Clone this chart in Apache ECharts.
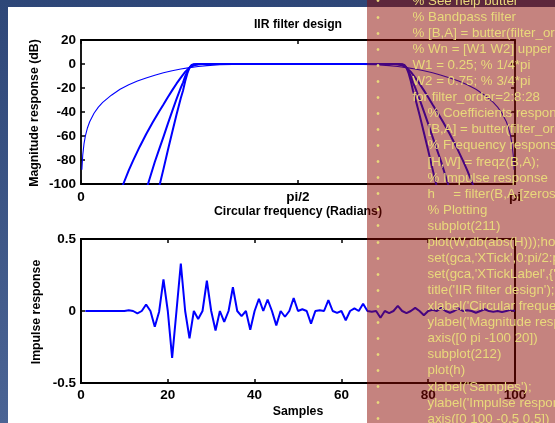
<!DOCTYPE html>
<html>
<head>
<meta charset="utf-8">
<script src="https://cdn.jsdelivr.net/npm/echarts@6/dist/echarts.min.js"></script>
<style>
html,body{margin:0;padding:0;}
#chart{width:555px;height:423px;background:linear-gradient(180deg,#2e4778 0%,#4b6494 100%);}
</style>
</head>
<body>
<div id="chart"></div>
<script>
// Magnitude responses [normalised frequency (x pi rad), dB] of the Butterworth band-pass designs
const order2 = [
  [0.002,-88.1],[0.004,-76.0],[0.007,-66.3],[0.01,-60.1],[0.015,-53.1],[0.02,-48.1],
  [0.03,-41.0],[0.04,-35.9],[0.05,-32.0],[0.07,-26.0],[0.09,-21.0],[0.11,-17.3],
  [0.13,-14.2],[0.15,-11.6],[0.17,-9.3],[0.19,-7.3],[0.21,-5.6],[0.23,-4.1],
  [0.25,-3.0],[0.27,-2.05],[0.29,-1.35],[0.32,-0.65],[0.35,-0.28],[0.40,-0.05],
  [0.45,0],[0.50,0],[0.55,0],[0.60,-0.05],[0.65,-0.28],[0.68,-0.65],[0.71,-1.35],
  [0.73,-2.05],[0.75,-3.0],[0.77,-4.1],[0.79,-5.6],[0.81,-7.3],[0.83,-9.3],
  [0.85,-11.6],[0.87,-14.2],[0.89,-17.3],[0.91,-21.0],[0.93,-26.0],[0.95,-32.0],
  [0.96,-35.9],[0.97,-41.0],[0.98,-48.1],[0.985,-53.1],[0.99,-60.1],[0.993,-66.3],
  [0.996,-76.0],[0.998,-88.1]
];
const order10 = [
  [0.08,-117.7],[0.0975,-100],[0.11,-88.7],[0.12,-80.5],[0.135,-69.1],[0.15,-58.6],
  [0.165,-48.8],[0.18,-39.6],[0.19,-33.7],[0.20,-27.7],[0.21,-22.0],[0.22,-16.4],
  [0.23,-11.3],[0.24,-6.55],[0.25,-3.01],[0.26,-1.09],[0.27,-0.34],[0.28,-0.1],
  [0.30,-0.01],[0.50,0],[0.70,-0.01],[0.72,-0.1],[0.73,-0.34],[0.74,-1.09],
  [0.75,-3.01],[0.76,-6.55],[0.77,-11.3],[0.78,-16.4],[0.79,-22.0],[0.80,-27.7],
  [0.81,-33.7],[0.82,-39.6],[0.835,-48.8],[0.85,-58.6],[0.865,-69.1],[0.88,-80.5],
  [0.89,-88.7],[0.9025,-100],[0.92,-117.7]
];
const order18 = [
  [0.14,-117.9],[0.1544,-100],[0.17,-81.7],[0.18,-71.2],[0.19,-60.7],[0.20,-49.9],
  [0.21,-39.5],[0.22,-29.3],[0.23,-19.7],[0.235,-15.5],[0.24,-10.26],[0.245,-6.13],
  [0.25,-3.01],[0.255,-1.21],[0.26,-0.43],[0.27,-0.05],[0.28,0],[0.50,0],
  [0.72,0],[0.73,-0.05],[0.74,-0.43],[0.745,-1.21],[0.75,-3.01],[0.755,-6.13],
  [0.76,-10.26],[0.765,-15.5],[0.77,-19.7],[0.78,-29.3],[0.79,-39.5],[0.80,-49.9],
  [0.81,-60.7],[0.82,-71.2],[0.83,-81.7],[0.8456,-100],[0.86,-117.9]
];
const order26 = [
  [0.17,-118],[0.1817,-100],[0.19,-87.6],[0.20,-72.1],[0.21,-57.1],[0.22,-42.3],
  [0.23,-28.4],[0.235,-22.3],[0.24,-14.4],[0.245,-7.87],[0.25,-3.01],[0.255,-0.77],
  [0.26,-0.16],[0.27,0],[0.50,0],[0.73,0],[0.74,-0.16],[0.745,-0.77],[0.75,-3.01],
  [0.755,-7.87],[0.76,-14.4],[0.765,-22.3],[0.77,-28.4],[0.78,-42.3],[0.79,-57.1],
  [0.80,-72.1],[0.81,-87.6],[0.8183,-100],[0.83,-118]
];
const freqTickLabels = ['0', 'pi/2', 'pi'];

// Impulse response of the last design, samples 1..100
const impulse = [
  0, 0, 0, 0, 0, 0, 0, 0, 0, 0,
  0.005, 0, -0.017, 0, 0.045, 0, -0.11, -0.005, 0.22, 0,
  -0.325, 0, 0.33, 0, -0.19, 0, -0.055, 0, 0.21, 0,
  -0.135, 0, -0.075, 0, 0.165, 0, -0.035, 0, -0.13, 0,
  0.085, 0, 0.08, 0, -0.10, 0, -0.04, 0, 0.09, 0,
  0.012, 0, -0.088, 0, 0.005, 0, 0.075, 0, -0.013, 0,
  -0.064, 0, 0.018, 0, 0.05, 0, -0.005, 0, -0.047, 0,
  -0.015, 0, 0.035, 0, -0.015, 0, 0.022, 0, -0.03, 0,
  0.008, 0, 0.022, 0, -0.012, 0, 0.018, 0, 0.005, 0,
  -0.012, 0, 0.012, 0, -0.006, 0, -0.008, 0, 0.008, 0
];

// Script listing shown in the side panel: [indent level, text]
const codeLines = [
  [1, "% See help butter"],
  [1, "% Bandpass filter"],
  [1, "% [B,A] = butter(filter_order,Wn)"],
  [1, "% Wn = [W1 W2] upper and lower cutoff"],
  [1, "W1 = 0.25; % 1/4*pi"],
  [1, "W2 = 0.75; % 3/4*pi"],
  [1, "for filter_order=2:8:28"],
  [2, "% Coefficients response"],
  [2, "[B,A] = butter(filter_order,[W1 W2]);"],
  [2, "% Frequency response"],
  [2, "[H,W] = freqz(B,A);"],
  [2, "% Impulse response"],
  [2, "h     = filter(B,A,[zeros(1,10) 1 zeros(1,89)]);"],
  [2, "% Plotting"],
  [2, "subplot(211)"],
  [2, "plot(W,db(abs(H)));hold on"],
  [2, "set(gca,'XTick',0:pi/2:pi);"],
  [2, "set(gca,'XTickLabel',{'0','pi/2','pi'});"],
  [2, "title('IIR filter design');"],
  [2, "xlabel('Circular frequency (Radians)');"],
  [2, "ylabel('Magnitude response (dB)');"],
  [2, "axis([0 pi -100 20])"],
  [2, "subplot(212)"],
  [2, "plot(h)"],
  [2, "xlabel('Samples');"],
  [2, "ylabel('Impulse response');"],
  [2, "axis([0 100 -0.5 0.5])"]
];

const FONT = '"Liberation Sans", Arial, Helvetica, sans-serif';
const BLUE = '#0000ff';

function tickAxis(extra) {
  return Object.assign({
    type: 'value',
    axisLine: { show: false, onZero: false },
    axisTick: { show: true, inside: true, length: 4, lineStyle: { color: '#000', width: 1.5 } },
    splitLine: { show: false },
    axisLabel: { show: false }
  }, extra);
}
const labelStyle = { color: '#000', fontSize: 13.5, fontWeight: 'bold', fontFamily: FONT };

const graphics = [];
// white figure area
graphics.push({ type: 'rect', z: -10, shape: { x: 8, y: 7, width: 547, height: 416 }, style: { fill: '#ffffff' } });
function label(text, x, y, rot, size) {
  graphics.push({
    type: 'text', x: x, y: y, rotation: rot || 0, z: 5,
    style: { text: text, fill: '#000', font: 'bold ' + (size || 12.3) + 'px ' + FONT,
             align: 'center', verticalAlign: 'middle' }
  });
}
label('IIR filter design', 298, 25, 0, 12.2);
label('Circular frequency (Radians)', 298, 212);
label('Magnitude response (dB)', 35, 113, Math.PI / 2);
label('Samples', 298, 412);
label('Impulse response', 37, 312, Math.PI / 2);

// translucent side panel with the script listing
graphics.push({ type: 'rect', z: 50, shape: { x: 367, y: 0, width: 188, height: 423 },
  style: { fill: 'rgba(140,8,0,0.5)' } });
codeLines.forEach(function (ln, i) {
  const y = 1.2 + 16.07 * i;
  graphics.push({ type: 'text', z: 51, x: 378, y: y + 0.5,
    style: { text: '\u2022', fill: '#e9d97b', font: '10px ' + FONT, align: 'center', verticalAlign: 'middle' } });
  graphics.push({ type: 'text', z: 51, x: ln[0] === 1 ? 412.5 : 427.5, y: y,
    style: { text: ln[1], fill: '#e9d97b', font: '13.3px ' + FONT, align: 'left', verticalAlign: 'middle' } });
});

const chart = echarts.init(document.getElementById('chart'), null, { renderer: 'canvas' });
chart.setOption({
  animation: false,
  backgroundColor: 'transparent',
  grid: [
    { left: 81, top: 40, width: 434, height: 144, show: true, borderColor: '#000', borderWidth: 1.8, backgroundColor: 'transparent' },
    { left: 81, top: 239, width: 434, height: 144, show: true, borderColor: '#000', borderWidth: 2, backgroundColor: 'transparent' }
  ],
  xAxis: [
    tickAxis({ gridIndex: 0, position: 'bottom', min: 0, max: 1, interval: 0.5,
      axisLabel: Object.assign({ show: true, margin: 6, formatter: function (v) { return freqTickLabels[Math.round(v * 2)]; } }, labelStyle) }),
    tickAxis({ gridIndex: 0, position: 'top', min: 0, max: 1, interval: 0.5 }),
    tickAxis({ gridIndex: 1, position: 'bottom', min: 0, max: 100, interval: 20,
      axisLabel: Object.assign({ show: true, margin: 5 }, labelStyle) }),
    tickAxis({ gridIndex: 1, position: 'top', min: 0, max: 100, interval: 20 })
  ],
  yAxis: [
    tickAxis({ gridIndex: 0, position: 'left', min: -100, max: 20, interval: 20,
      axisLabel: Object.assign({ show: true, margin: 5 }, labelStyle) }),
    tickAxis({ gridIndex: 0, position: 'right', min: -100, max: 20, interval: 20 }),
    tickAxis({ gridIndex: 1, position: 'left', min: -0.5, max: 0.5, interval: 0.5,
      axisLabel: Object.assign({ show: true, margin: 5 }, labelStyle) }),
    tickAxis({ gridIndex: 1, position: 'right', min: -0.5, max: 0.5, interval: 0.5 })
  ],
  series: [
    { type: 'line', xAxisIndex: 0, yAxisIndex: 0, data: order2, showSymbol: false, clip: true,
      lineStyle: { color: BLUE, width: 1.1 } },
    { type: 'line', xAxisIndex: 0, yAxisIndex: 0, data: order10, showSymbol: false, clip: true,
      lineStyle: { color: BLUE, width: 2 } },
    { type: 'line', xAxisIndex: 0, yAxisIndex: 0, data: order18, showSymbol: false, clip: true,
      lineStyle: { color: BLUE, width: 2 } },
    { type: 'line', xAxisIndex: 0, yAxisIndex: 0, data: order26, showSymbol: false, clip: true,
      lineStyle: { color: BLUE, width: 2 } },
    { type: 'line', xAxisIndex: 2, yAxisIndex: 2, showSymbol: false, clip: true,
      data: impulse.map(function (v, i) { return [i + 1, v]; }),
      lineStyle: { color: BLUE, width: 2 } }
  ],
  graphic: graphics
});
</script>
</body>
</html>
